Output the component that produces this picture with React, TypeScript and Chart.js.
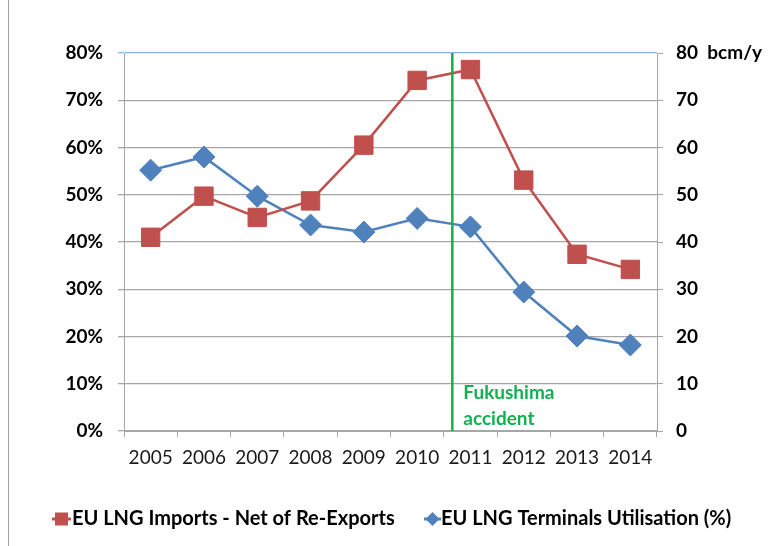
import React, { useEffect, useRef } from "react";
import { Chart, registerables } from "chart.js";

Chart.register(...registerables);

const years = ["2005", "2006", "2007", "2008", "2009", "2010", "2011", "2012", "2013", "2014"];
const importsBcm = [41.0, 49.7, 45.2, 48.7, 60.5, 74.2, 76.5, 53.1, 37.4, 34.2];
const utilisationPct = [55.2, 58.0, 49.7, 43.6, 42.1, 45.0, 43.2, 29.4, 20.1, 18.2];
const importsLabel = "EU LNG Imports - Net of Re-Exports";
const utilisationLabel = "EU LNG Terminals Utilisation (%)";
const eventPosition = 5.66; // category index between 2010 and 2011
const eventText = ["Fukushima", "accident"];
const axisMin = 0;
const axisMax = 80;
const axisStep = 10;

const RED = "#c0504d";
const BLUE = "#4f81bd";
const GREEN = "#12b050";
const FONT = "Lato, 'Liberation Sans', sans-serif";

export default function App() {
  const ref = useRef<HTMLCanvasElement | null>(null);

  useEffect(() => {
    const canvas = ref.current;
    if (!canvas) return;

    const overlay = {
      id: "overlay",
      afterDraw(chart: any) {
        const ctx = chart.ctx;
        const xs = chart.scales.x;
        const area = chart.chartArea;
        const i0 = Math.floor(eventPosition);
        const p0 = xs.getPixelForValue(i0);
        const p1 = xs.getPixelForValue(i0 + 1);
        const ex = p0 + (p1 - p0) * (eventPosition - i0);
        ctx.save();
        ctx.strokeStyle = GREEN;
        ctx.lineWidth = 2.5;
        ctx.beginPath();
        ctx.moveTo(ex, area.top);
        ctx.lineTo(ex, area.bottom);
        ctx.stroke();
        ctx.fillStyle = GREEN;
        ctx.font = `bold 19px ${FONT}`;
        ctx.textAlign = "left";
        ctx.textBaseline = "middle";
        ctx.fillText(eventText[0], ex + 11, 393);
        ctx.fillText(eventText[1], ex + 11, 419);

        // legend
        const ly = 519;
        ctx.font = `bold 20px ${FONT}`;
        // red
        ctx.strokeStyle = RED;
        ctx.lineWidth = 3;
        ctx.beginPath();
        ctx.moveTo(52, ly);
        ctx.lineTo(71, ly);
        ctx.stroke();
        ctx.fillStyle = RED;
        ctx.fillRect(55, ly - 6.5, 13, 13);
        ctx.fillStyle = "#000";
        ctx.fillText(importsLabel, 72, ly);
        // blue
        ctx.strokeStyle = BLUE;
        ctx.beginPath();
        ctx.moveTo(424, ly);
        ctx.lineTo(441, ly);
        ctx.stroke();
        ctx.fillStyle = BLUE;
        ctx.beginPath();
        ctx.moveTo(432.5, ly - 7);
        ctx.lineTo(439.5, ly);
        ctx.lineTo(432.5, ly + 7);
        ctx.lineTo(425.5, ly);
        ctx.closePath();
        ctx.fill();
        ctx.fillStyle = "#000";
        ctx.fillText(utilisationLabel, 441, ly);

        // left border
        ctx.strokeStyle = "#a0a0a0";
        ctx.lineWidth = 1;
        ctx.beginPath();
        ctx.moveTo(8.5, 0);
        ctx.lineTo(8.5, 546);
        ctx.stroke();
        ctx.restore();
      },
    };

    const gridColor = (c: any) => (c.tick && c.tick.value === axisMax ? "#8db3e2" : "#a6a6a6");

    const chart = new Chart(canvas, {
      type: "line",
      data: {
        labels: years,
        datasets: [
          {
            label: importsLabel,
            data: importsBcm,
            yAxisID: "y1",
            borderColor: RED,
            backgroundColor: RED,
            borderWidth: 2.5,
            pointStyle: "rect",
            pointRadius: 13,
            pointBorderWidth: 1,
            pointBorderColor: RED,
            pointBackgroundColor: RED,
            tension: 0,
          },
          {
            label: utilisationLabel,
            data: utilisationPct,
            yAxisID: "y",
            borderColor: BLUE,
            backgroundColor: BLUE,
            borderWidth: 2.5,
            pointStyle: "rectRot",
            pointRadius: 11,
            pointBorderWidth: 1,
            pointBorderColor: BLUE,
            pointBackgroundColor: BLUE,
            tension: 0,
          },
        ],
      },
      options: {
        responsive: false,
        animation: false,
        layout: { padding: { top: 53, left: 0, right: 0, bottom: 0 } },
        plugins: { legend: { display: false }, tooltip: { enabled: false } },
        scales: {
          x: {
            offset: true,
            grid: { drawOnChartArea: false, drawTicks: true, tickLength: 6, offset: true, color: "#a6a6a6" },
            border: { color: "#a6a6a6", width: 1 },
            ticks: { color: "#1a1a1a", font: { family: FONT, size: 19 }, padding: 9, maxRotation: 0 },
            afterFit: (s: any) => { s.height = 546 - 431; },
          },
          y: {
            position: "left",
            min: axisMin,
            max: axisMax,
            grid: { color: gridColor, tickLength: 6, lineWidth: 1.3 },
            border: { color: "#a6a6a6", width: 1 },
            ticks: {
              stepSize: axisStep,
              padding: 15,
              color: "#000",
              font: { family: FONT, size: 19, weight: "bold" },
              callback: (v: any) => `${v}%`,
            },
            afterFit: (s: any) => { s.width = 124; },
          },
          y1: {
            position: "right",
            min: axisMin,
            max: axisMax,
            grid: { drawOnChartArea: false, tickLength: 6, color: "#a6a6a6" },
            border: { color: "#a6a6a6", width: 1 },
            ticks: {
              stepSize: axisStep,
              padding: 13,
              color: "#000",
              font: { family: FONT, size: 19, weight: "bold" },
              callback: (v: any) => (v === axisMax ? `${v}  bcm/y` : `${v}`),
            },
            afterFit: (s: any) => { s.width = 772 - 657; },
          },
        },
      },
      plugins: [overlay],
    });
    return () => chart.destroy();
  }, []);

  return (
    <div style={{ position: "fixed", left: 0, top: 0, width: 772, height: 546, background: "#fff" }}>
      <canvas ref={ref} width={772} height={546} style={{ display: "block" }} />
    </div>
  );
}
